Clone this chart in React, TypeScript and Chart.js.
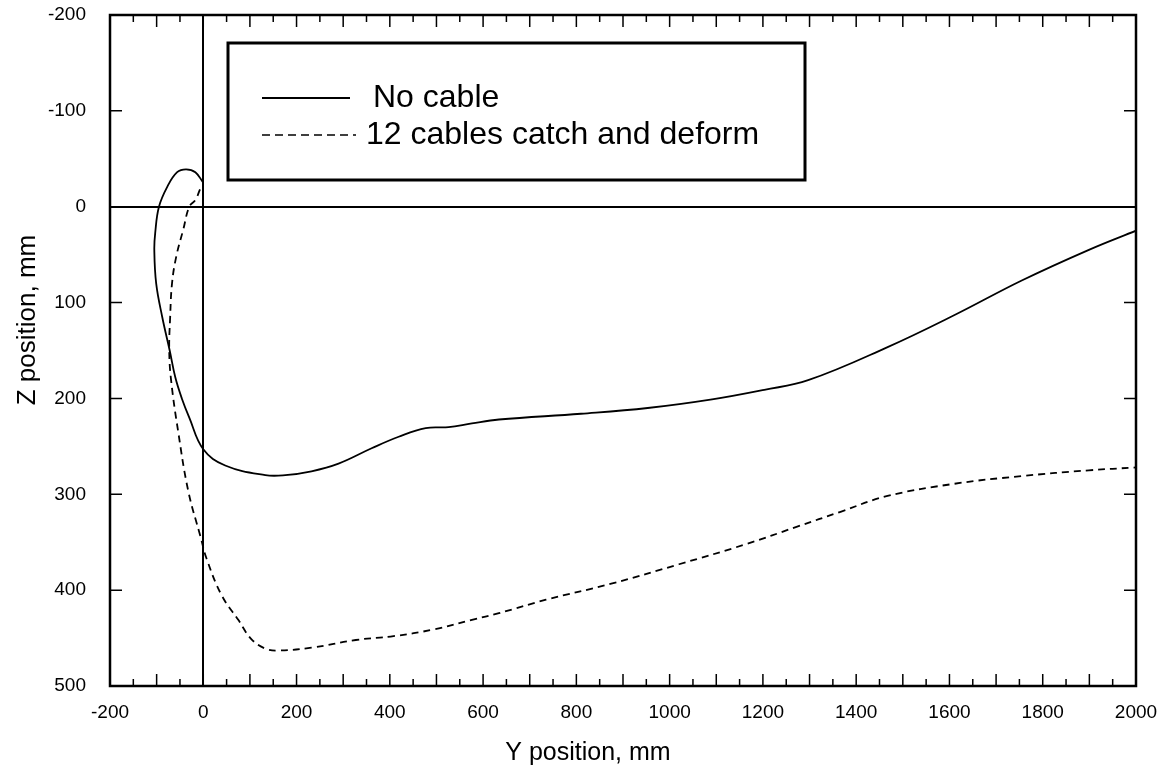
import { useEffect, useRef } from 'react';
import { Chart, registerables } from 'chart.js';

Chart.register(...registerables);

// Axis ranges / tick labels
const X_MIN = -200;
const X_MAX = 2000;
const X_LABEL_STEP = 200;
const X_MINOR_STEP = 50;
const Z_MIN = -200;
const Z_MAX = 500;
const Z_STEP = 100;

const X_TITLE = 'Y position, mm';
const Z_TITLE = 'Z position, mm';

// Series: No cable (solid)
const noCableY = [0, -17, -37, -56, -77, -95, -103, -105, -101, -88, -72, -60, -46, -30, 0, 47, 133, 176, 232, 290, 361, 419, 477, 526, 576, 634, 810, 953, 1091, 1203, 1297, 1465, 1611, 1755, 1899, 2000];
const noCableZ = [-25, -36, -39, -36, -21, 0, 27, 45, 80, 115, 150, 178, 200, 220, 253, 270, 280, 280, 276, 268, 252, 240, 231, 230, 226, 222, 216, 210, 201, 191, 181, 147, 113, 77, 45, 25];

// Series: 12 cables catch and deform (dashed)
const cablesY = [-7, -17, -30, -43, -58, -67, -71, -73, -69, -54, -32, -6, 7, 39, 75, 103, 133, 161, 232, 327, 408, 494, 576, 634, 735, 877, 1020, 1164, 1272, 1368, 1465, 1611, 1755, 1899, 2000];
const cablesZ = [-18, -7, 0, 24, 52, 80, 115, 150, 181, 234, 297, 344, 367, 405, 431, 451, 461, 463, 460, 452, 448, 441, 431, 424, 410, 393, 373, 352, 334, 318, 302, 289, 281, 275, 272];

const toPoints = (xs: number[], ys: number[]) => xs.map((x, i) => ({ x, y: ys[i] }));

const FONT = '"Liberation Sans", Arial, Helvetica, sans-serif';

const decorPlugin = {
  id: 'decor',
  afterDatasetsDraw(chart: any) {
    const { ctx, chartArea: a, scales } = chart;
    const xs = scales.x;
    const ys = scales.y;
    ctx.save();
    ctx.strokeStyle = '#000';
    ctx.fillStyle = '#000';
    // inner tick marks
    ctx.lineWidth = 1.5;
    ctx.beginPath();
    for (let v = X_MIN; v <= X_MAX; v += X_MINOR_STEP) {
      const px = xs.getPixelForValue(v);
      const len = v % 100 === 0 ? 12 : 7;
      ctx.moveTo(px, a.bottom);
      ctx.lineTo(px, a.bottom - len);
      ctx.moveTo(px, a.top);
      ctx.lineTo(px, a.top + len);
    }
    for (let v = Z_MIN; v <= Z_MAX; v += Z_STEP) {
      const py = ys.getPixelForValue(v);
      ctx.moveTo(a.left, py);
      ctx.lineTo(a.left + 12, py);
      ctx.moveTo(a.right, py);
      ctx.lineTo(a.right - 12, py);
    }
    ctx.stroke();
    // frame
    ctx.lineWidth = 2.5;
    ctx.strokeRect(a.left, a.top, a.right - a.left, a.bottom - a.top);

    // legend box
    const ds = chart.data.datasets;
    const bx = 228, by = 43, bw = 577, bh = 137;
    ctx.fillStyle = '#fff';
    ctx.fillRect(bx, by, bw, bh);
    ctx.lineWidth = 3;
    ctx.strokeRect(bx, by, bw, bh);
    ctx.fillStyle = '#000';
    ctx.font = `32px ${FONT}`;
    ctx.textBaseline = 'middle';
    ctx.textAlign = 'left';
    const rows = [
      { y: 98, x0: 262, x1: 350, tx: 373 },
      { y: 135, x0: 262, x1: 356, tx: 366 },
    ];
    ds.forEach((d: any, i: number) => {
      const r = rows[i];
      ctx.save();
      ctx.lineWidth = i === 0 ? 2 : 1.5;
      ctx.setLineDash(i === 0 ? [] : [8, 5]);
      ctx.beginPath();
      ctx.moveTo(r.x0, r.y);
      ctx.lineTo(r.x1, r.y);
      ctx.stroke();
      ctx.restore();
      ctx.fillText(d.label, r.tx, r.y);
    });

    // axis titles
    ctx.font = `25px ${FONT}`;
    ctx.textAlign = 'center';
    ctx.textBaseline = 'alphabetic';
    ctx.fillText(X_TITLE, 588, 760);
    ctx.font = `26px ${FONT}`;
    ctx.save();
    ctx.translate(35, 320);
    ctx.rotate(-Math.PI / 2);
    ctx.fillText(Z_TITLE, 0, 0);
    ctx.restore();
    ctx.restore();
  },
};

export default function App() {
  const ref = useRef<HTMLCanvasElement | null>(null);
  useEffect(() => {
    if (!ref.current) return;
    const zeroColor = (c: any) => (c.tick && c.tick.value === 0 ? '#000' : 'rgba(0,0,0,0)');
    const chart = new Chart(ref.current, {
      type: 'scatter',
      data: {
        datasets: [
          {
            label: 'No cable',
            data: toPoints(noCableY, noCableZ),
            showLine: true,
            borderColor: '#000',
            backgroundColor: '#000',
            borderWidth: 1.8,
            pointRadius: 0,
            tension: 0.4,
            fill: false,
          },
          {
            label: '12 cables catch and deform',
            data: toPoints(cablesY, cablesZ),
            showLine: true,
            borderColor: '#000',
            backgroundColor: '#000',
            borderWidth: 1.8,
            borderDash: [7, 5],
            pointRadius: 0,
            tension: 0.4,
            fill: false,
          },
        ],
      },
      options: {
        animation: false,
        responsive: true,
        maintainAspectRatio: false,
        layout: { padding: { left: 0, right: 36, top: 15, bottom: 0 } },
        plugins: { legend: { display: false }, tooltip: { enabled: false } },
        scales: {
          x: {
            type: 'linear',
            min: X_MIN,
            max: X_MAX,
            afterFit: (s: any) => { s.height = 81; s.paddingLeft = 0; s.paddingRight = 0; },
            border: { display: false },
            grid: { color: zeroColor, lineWidth: 2, drawTicks: false },
            ticks: {
              stepSize: X_LABEL_STEP,
              autoSkip: false,
              maxRotation: 0,
              padding: 15,
              color: '#000',
              font: { family: FONT, size: 19 },
              callback: (v: any) => String(v),
            },
          },
          y: {
            type: 'linear',
            min: Z_MIN,
            max: Z_MAX,
            reverse: true,
            afterFit: (s: any) => { s.width = 110; s.paddingTop = 0; s.paddingBottom = 0; },
            border: { display: false },
            grid: { color: zeroColor, lineWidth: 2, drawTicks: false },
            ticks: {
              stepSize: Z_STEP,
              padding: 24,
              color: '#000',
              font: { family: FONT, size: 19 },
              callback: (v: any) => String(v),
            },
          },
        },
      },
      plugins: [decorPlugin],
    });
    return () => chart.destroy();
  }, []);
  return (
    <div style={{ position: 'absolute', left: 0, top: 0, width: 1172, height: 767, background: '#fff' }}>
      <canvas ref={ref} />
    </div>
  );
}
